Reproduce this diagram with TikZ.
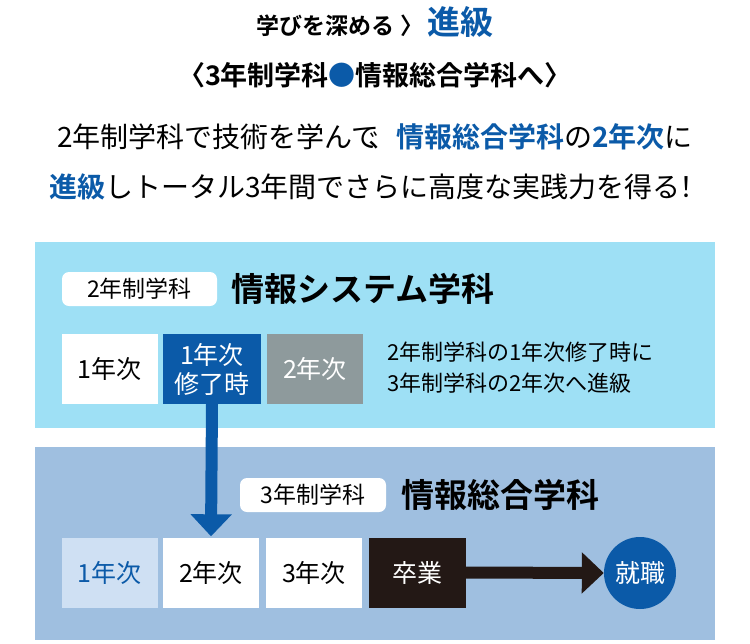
\documentclass[tikz,border=0pt]{standalone}
\usepackage{fontspec}
\setmainfont{Noto Sans CJK JP}
\newfontfamily\jpbold{Noto Sans CJK JP Bold}
\usetikzlibrary{positioning,arrows.meta}
\definecolor{skyband}{HTML}{9EE0F5}
\definecolor{steelband}{HTML}{9FBFE0}
\definecolor{navy}{HTML}{0B5AA8}
\definecolor{paleblue}{HTML}{CFE0F3}
\definecolor{greybox}{HTML}{8E9A9C}
\definecolor{coal}{HTML}{231815}
\tikzset{
  yearbox/.style={draw=none, minimum width=96pt, minimum height=70pt, inner sep=0pt, font=\fontsize{25}{28}\selectfont, align=center},
  tagbox/.style={fill=white, rounded corners=7pt, minimum height=34pt, inner sep=0pt, font=\fontsize{23}{26}\selectfont},
  deptname/.style={anchor=west, font=\jpbold\fontsize{33}{36}\selectfont}
}
\newcommand{\bl}[1]{{\jpbold\color{navy}#1}}
\begin{document}
\begin{tikzpicture}[x=1pt,y=-1pt]
		\useasboundingbox (0,0) rectangle (750,643);
		% heading
		\node (head) at (375,22) {\jpbold\fontsize{23}{26}\selectfont 学びを深める 〉\,{\color{navy}\fontsize{33}{36}\selectfont 進級}};
		\node (sub) at (375,75) {\jpbold\fontsize{27}{30}\selectfont 〈3年制学科{\color{navy}●}情報総合学科へ〉};
		\node[align=center, font=\fontsize{28}{50}\selectfont] (lead) at (375,162) {2年制学科で技術を学んで\hspace{-0.4em}、\bl{情報総合学科}の\bl{2年次}に\\\bl{進級}しトータル3年間でさらに高度な実践力を得る\hspace{-0.3em}！};
		
		% upper band
		\fill[skyband] (35,242) rectangle (715,428);
		\node[tagbox, minimum width=155pt] (tag2) at (139.5,289) {2年制学科};
		\node[deptname] (dept2) at (228,289) {情報システム学科};
		\node[yearbox, fill=white] (u1) at (109.5,369) {1年次};
		\node[yearbox, fill=navy, text=white, minimum width=98pt, font=\fontsize{25}{29}\selectfont] (u2) at (212,369) {1年次\\修了時};
		\node[yearbox, fill=greybox, text=white] (u3) at (315,369) {2年次};
		\node[anchor=west, align=left, font=\fontsize{22}{31}\selectfont] (note) at (384,368) {2年制学科の1年次修了時に\\3年制学科の2年次へ進級};
		
		% lower band
		\fill[steelband] (35,447) rectangle (715,640);
		\node[tagbox, minimum width=146pt] (tag3) at (313,495) {3年制学科};
		\node[deptname] (dept3) at (398,495) {情報総合学科};
		\node[yearbox, fill=paleblue, text=navy] (l1) at (109.5,572.5) {1年次};
		\node[yearbox, fill=white] (l2) at (211,572.5) {2年次};
		\node[yearbox, fill=white] (l3) at (314,572.5) {3年次};
		\node[yearbox, fill=coal, text=white, minimum width=97pt] (grad) at (417.5,572.5) {卒業};
		\node[circle, fill=navy, text=white, minimum size=72pt, inner sep=0pt, font=\fontsize{25}{28}\selectfont] (job) at (640,573) {就職};
		
		% arrows
		\draw[navy, line width=12pt, -{Triangle[length=22pt, width=40pt]}] (u2.south) -- ([yshift=1pt]l2.north);
		\draw[coal, line width=12pt, -{Triangle[length=22pt, width=40pt]}] (grad.east) -- (job.west);
	\end{tikzpicture}
\end{document}
